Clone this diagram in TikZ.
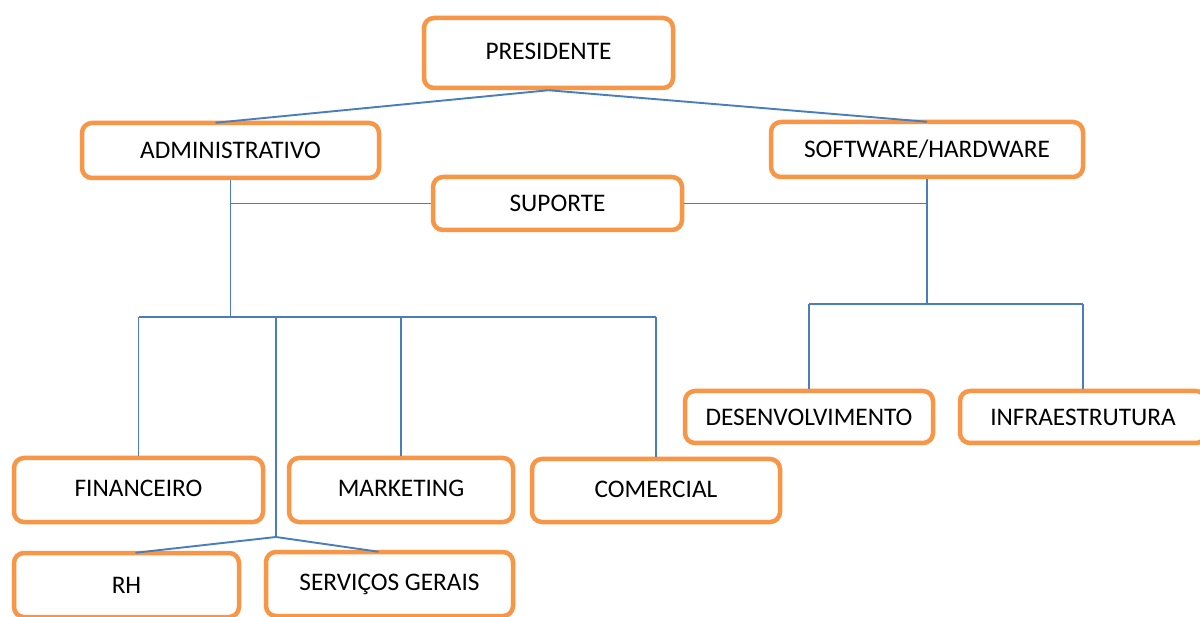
\documentclass[tikz,border=0pt]{standalone}
\usepackage{fontspec}
\setmainfont{Carlito}
\definecolor{boxorange}{HTML}{F79646}
\definecolor{lineblue}{HTML}{4A7EBB}
\begin{document}
\begin{tikzpicture}[x=1pt,y=-1pt,
  orgbox/.style={draw=boxorange, line width=4.5pt, rounded corners=10pt, fill=white,
    inner sep=0pt, font=\fontsize{25.3}{30}\selectfont, text=black},
  conn/.style={draw=lineblue, line width=1.9pt}]
\useasboundingbox[fill=white] (0,0) rectangle (1200,617);
\node[orgbox, minimum width=249pt, minimum height=70pt] (pres) at (548.5,53) {\raisebox{3pt}{PRESIDENTE}};
\node[orgbox, minimum width=297pt, minimum height=55pt] (adm) at (230.5,150.5) {ADMINISTRATIVO};
\node[orgbox, minimum width=312pt, minimum height=55pt] (soft) at (927,149.5) {SOFTWARE/HARDWARE};
\node[orgbox, minimum width=249pt, minimum height=53pt] (sup) at (557.5,203.5) {SUPORTE};
\node[orgbox, minimum width=248pt, minimum height=52pt] (des) at (809,417) {DESENVOLVIMENTO};
\node[orgbox, minimum width=246pt, minimum height=52pt] (inf) at (1083,417) {INFRAESTRUTURA};
\node[orgbox, minimum width=249pt, minimum height=64pt] (fin) at (138.5,490) {\raisebox{3pt}{FINANCEIRO}};
\node[orgbox, minimum width=224pt, minimum height=64pt] (mkt) at (401,490) {\raisebox{3pt}{MARKETING}};
\node[orgbox, minimum width=248pt, minimum height=63pt] (com) at (656,490.5) {\raisebox{2pt}{COMERCIAL}};
\node[orgbox, minimum width=225pt, minimum height=64pt] (rh) at (126.5,585) {RH};
\node[orgbox, minimum width=247pt, minimum height=64pt] (serv) at (389.5,584) {SERVIÇOS GERAIS};
\coordinate (a1) at (230.5,317);
\coordinate (s1) at (927,304);
\coordinate (t) at (276,317);
\coordinate (j) at (276,537);
% connectors
\path[conn] (pres.south) -- ([xshift=-15pt,yshift=-2pt]adm.north);
\path[conn] (pres.south) -- ([yshift=-2pt]soft.north);
\path[conn] (adm.south) -- (a1);
\path[conn] (sup.west) -- (sup.west -| adm.south);
\path[conn] (sup.east) -- (sup.east -| soft.south);
\path[conn] (soft.south) -- (s1);
\path[conn] (des.north |- s1) -- (inf.north |- s1);
\path[conn] (des.north) -- (des.north |- s1);
\path[conn] (inf.north) -- (inf.north |- s1);
\path[conn] (fin.north |- a1) -- (com.north |- a1);
\path[conn] (fin.north) -- (fin.north |- a1);
\path[conn] (mkt.north) -- (mkt.north |- a1);
\path[conn] (com.north) -- (com.north |- a1);
\path[conn] (t) -- (j);
\path[conn] (j) -- ([xshift=9pt,yshift=-2pt]rh.north);
\path[conn] (j) -- ([xshift=-11pt,yshift=-2pt]serv.north);
\end{tikzpicture}
\end{document}
